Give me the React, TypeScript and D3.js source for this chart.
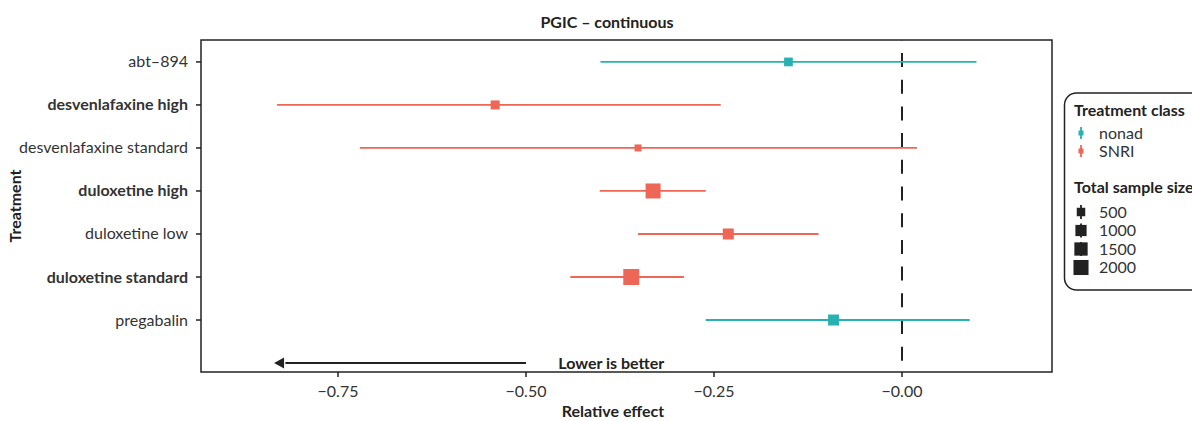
import React from "react";
import * as d3 from "d3";

const treatments = [
  "abt–894",
  "desvenlafaxine high",
  "desvenlafaxine standard",
  "duloxetine high",
  "duloxetine low",
  "duloxetine standard",
  "pregabalin",
];
const boldLabels = [false, true, false, true, false, true, false];
const treatmentClass = ["nonad", "SNRI", "SNRI", "SNRI", "SNRI", "SNRI", "nonad"];
const estimates = [-0.151, -0.541, -0.351, -0.331, -0.231, -0.36, -0.091];
const lower = [-0.401, -0.831, -0.721, -0.402, -0.351, -0.441, -0.261];
const upper = [0.099, -0.241, 0.02, -0.261, -0.111, -0.29, 0.09];
const sampleSizes = [535, 582, 300, 1990, 955, 2300, 955];

const classes = ["nonad", "SNRI"];
const classColors = ["#27B1B0", "#EE6655"];
const sizeLegend = [500, 1000, 1500, 2000];
const xTicks = [-0.75, -0.5, -0.25, 0];

const W = 1192;
const H = 421;
const FONT = "Lato, 'Open Sans', sans-serif";

export default function App() {
  const left = 201, right = 1052, top = 40, bottom = 372;
  const x = d3.scaleLinear().domain([-0.75, 0]).range([338, 902]);
  const rowSpacing = (321 - 62) / 6;
  const y = d3
    .scaleLinear()
    .domain([-9 / rowSpacing, 7 + 22 / rowSpacing])
    .range([bottom, top]);
  const rowY = (i: number) => y(7 - i);
  const color = d3.scaleOrdinal<string, string>().domain(classes).range(classColors);
  const sqrtLin = d3.scaleLinear().domain([Math.sqrt(300), Math.sqrt(2300)]).range([7, 16]);
  const side = (n: number) => sqrtLin(Math.sqrt(n));
  const fmt = (v: number) => (v <= 0 ? "−" + Math.abs(v).toFixed(2) : v.toFixed(2));

  return (
    <svg width={W} height={H} style={{ display: "block", position: "absolute", left: 0, top: 0 }} fontFamily={FONT}>
      <rect x={0} y={0} width={W} height={H} fill="#fff" />
      {/* title */}
      <text x={607} y={28} textAnchor="middle" fontSize={16} fontWeight={700} fill="#222">
        PGIC – continuous
      </text>
      {/* zero line */}
      <line x1={x(0)} x2={x(0)} y1={top} y2={bottom} stroke="#222" strokeWidth={2} strokeDasharray="14,12.7" strokeDashoffset={-13} />
      {/* intervals */}
      {treatments.map((t, i) => (
        <line key={"l" + t} x1={x(lower[i])} x2={x(upper[i])} y1={rowY(i)} y2={rowY(i)} stroke={color(treatmentClass[i])} strokeWidth={1.8} />
      ))}
      {treatments.map((t, i) => {
        const s = side(sampleSizes[i]);
        return (
          <rect key={"p" + t} x={x(estimates[i]) - s / 2} y={rowY(i) - s / 2} width={s} height={s} fill={color(treatmentClass[i])} />
        );
      })}
      {/* arrow annotation */}
      <line x1={x(-0.5)} x2={x(-0.82)} y1={y(0)} y2={y(0)} stroke="#222" strokeWidth={2} />
      <path d={`M${x(-0.835)},${y(0)} l10,-5.5 l0,11 z`} fill="#222" />
      <text x={x(-0.457)} y={y(0) + 5.5} fontSize={16} fontWeight={700} fill="#222">
        Lower is better
      </text>
      {/* panel border */}
      <rect x={left} y={top} width={right - left} height={bottom - top} fill="none" stroke="#222" strokeWidth={1.5} />
      {/* y axis */}
      {treatments.map((t, i) => (
        <g key={"y" + t}>
          <line x1={left - 5} x2={left} y1={rowY(i)} y2={rowY(i)} stroke="#222" strokeWidth={1.5} />
          <text x={left - 13} y={rowY(i) + 5.5} textAnchor="end" fontSize={16} fontWeight={boldLabels[i] ? 700 : 400} fill="#333">
            {t}
          </text>
        </g>
      ))}
      <text transform={`translate(21,${(top + bottom) / 2}) rotate(-90)`} textAnchor="middle" fontSize={16} fontWeight={700} fill="#222">
        Treatment
      </text>
      {/* x axis */}
      {xTicks.map((v) => (
        <g key={"x" + v}>
          <line x1={x(v)} x2={x(v)} y1={bottom} y2={bottom + 5} stroke="#222" strokeWidth={1.5} />
          <text x={x(v)} y={bottom + 25} textAnchor="middle" fontSize={16} fill="#333">
            {fmt(v)}
          </text>
        </g>
      ))}
      <text x={613} y={417} textAnchor="middle" fontSize={16} fontWeight={700} fill="#222">
        Relative effect
      </text>
      {/* legend */}
      <rect x={1064.5} y={93} width={160} height={197} rx={12} fill="#fff" stroke="#222" strokeWidth={1.5} />
      <text x={1074} y={116} fontSize={16} fontWeight={700} fill="#222">
        Treatment class
      </text>
      {classes.map((c, i) => {
        const cy = 133 + i * 18;
        return (
          <g key={"lc" + c}>
            <line x1={1081} x2={1081} y1={cy - 6} y2={cy + 6} stroke={color(c)} strokeWidth={1.8} />
            <rect x={1078.5} y={cy - 2.5} width={5} height={5} fill={color(c)} />
            <text x={1099} y={cy + 5.5} fontSize={16} fill="#333">
              {c}
            </text>
          </g>
        );
      })}
      <text x={1074} y={193} fontSize={16} fontWeight={700} fill="#222">
        Total sample size
      </text>
      {sizeLegend.map((n, i) => {
        const cy = 212 + i * 18.5;
        const s = side(n);
        return (
          <g key={"ls" + n}>
            <line x1={1081} x2={1081} y1={cy - 7} y2={cy + 7} stroke="#222" strokeWidth={1.8} />
            <rect x={1081 - s / 2} y={cy - s / 2} width={s} height={s} fill="#222" />
            <text x={1099} y={cy + 5.5} fontSize={16} fill="#333">
              {n}
            </text>
          </g>
        );
      })}
    </svg>
  );
}
